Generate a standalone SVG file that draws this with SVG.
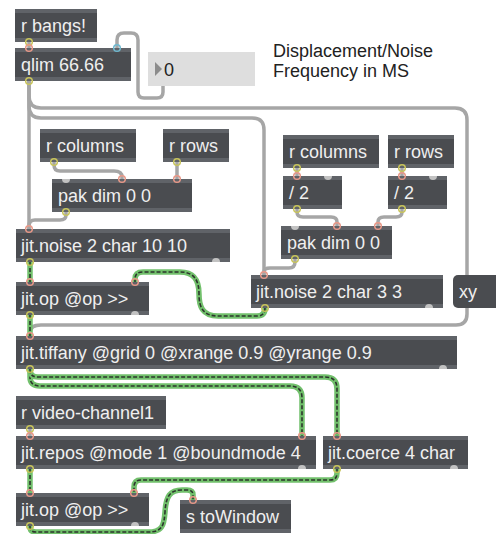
<svg xmlns="http://www.w3.org/2000/svg" width="496" height="534" viewBox="0 0 496 534">
<style>
.body{fill:#4a4c50}
.band{fill:#606368}
.t{font-family:"Liberation Sans",Arial,sans-serif;font-size:18px;fill:#efefef}
.c{font-family:"Liberation Sans",Arial,sans-serif;font-size:18px;fill:#222}
.gc{fill:none;stroke:#a6a6a6;stroke-width:3.5;stroke-linecap:round;stroke-linejoin:round}
.mg{fill:none;stroke:#72c06c;stroke-width:5.5;stroke-linejoin:round}
.md{fill:none;stroke:#2c352c;stroke-width:1.6;stroke-dasharray:4 2}
.bump{fill:#c2c2c2}
.pin{fill:none;stroke:#e89888;stroke-width:1.5}
.pcold{fill:none;stroke:#6fb8cf;stroke-width:1.5}
.pout{fill:none;stroke:#c8c45a;stroke-width:1.5}
</style>
<rect width="496" height="534" fill="#ffffff"/>

<g id="connectors">
  <path class="gc" d="M29 42 L29 48"/>
  <path class="gc" d="M163 86 L163 92 Q163 98 157 98 L144 98 Q138 98 138 92 L138 40 Q138 33 131 33 L124 33 Q117 33 117 40 L117 48"/>
  <path class="gc" d="M29 81 L29 229"/>
  <path class="gc" d="M29 81 L29 96 Q29 108 41 108 L455 108 Q467 108 467 120 L467 275"/>
  <path class="gc" d="M467 308 L467 314 Q467 325 456 325 L41 325 Q30 325 30 333 L30 336"/>
  <path class="gc" d="M29 81 L29 106 Q29 118 41 118 L252 118 Q264 118 264 130 L264 275"/>
  <path class="gc" d="M54 162 L54 165 Q54 171 60 171 L114 171 Q122 171 122 177 L122 179"/>
  <path class="gc" d="M177 162 L177 179"/>
  <path class="gc" d="M66 212 L66 215 Q66 220 60 220 L35 220 Q29 220 29 226 L29 229"/>
  <path class="gc" d="M297 168 L297 176"/>
  <path class="gc" d="M402 168 L402 176"/>
  <path class="gc" d="M297 209 L297 212 Q297 217 303 217 L331 217 Q337 217 337 222 L337 226"/>
  <path class="gc" d="M402 209 L402 212 Q402 217 396 217 L384 217 Q378 217 378 222 L378 226"/>
  <path class="gc" d="M295 259 L295 262 Q295 268 289 268 L270 268 Q264 268 264 272 L264 275"/>
  <path class="gc" d="M30 429 L30 436"/>

  <g id="matrix-cords">
    <path class="mg" d="M30 262 L30 282"/>
    <path class="md" d="M30 262 L30 282"/>
    <path class="mg" d="M265 308 Q265 316 257 316 L218 316 C202 316 199 306 199 294 C199 280 194 272 180 272 L143 272 Q135 272 135 279 L135 282"/>
    <path class="md" d="M265 308 Q265 316 257 316 L218 316 C202 316 199 306 199 294 C199 280 194 272 180 272 L143 272 Q135 272 135 279 L135 282"/>
    <path class="mg" d="M30 315 L30 336"/>
    <path class="md" d="M30 315 L30 336"/>
    <path class="mg" d="M30 369 L30 377 Q30 386 40 386 L290 386 Q302 386 302 398 L302 436"/>
    <path class="md" d="M30 369 L30 377 Q30 386 40 386 L290 386 Q302 386 302 398 L302 436"/>
    <path class="mg" d="M30 369 L30 370 Q30 377 38 377 L325 377 Q337 377 337 389 L337 436"/>
    <path class="md" d="M30 369 L30 370 Q30 377 38 377 L325 377 Q337 377 337 389 L337 436"/>
    <path class="mg" d="M30 469 L30 493"/>
    <path class="md" d="M30 469 L30 493"/>
    <path class="mg" d="M337 469 L337 473 Q337 480 330 480 L141 480 Q134 480 134 487 L134 493"/>
    <path class="md" d="M337 469 L337 473 Q337 480 330 480 L141 480 Q134 480 134 487 L134 493"/>
    <path class="mg" d="M30 526 L30 527 Q30 532 36 532 L148 532 C162 532 164 526 165 512 C166 496 170 490 182 490 L187 490 Q193 490 193 495 L193 500"/>
    <path class="md" d="M30 526 L30 527 Q30 532 36 532 L148 532 C162 532 164 526 165 512 C166 496 170 490 182 490 L187 490 Q193 490 193 495 L193 500"/>
  </g>
</g>

<g id="r-bangs"><rect class="body" x="15" y="9" width="82" height="33"/><rect class="band" x="15" y="9" width="82" height="4"/><rect class="band" x="15" y="38" width="82" height="4"/><text class="t" x="21" y="32">r bangs!</text></g>
<g id="qlim"><rect class="body" x="15" y="48" width="116" height="33"/><rect class="band" x="15" y="48" width="116" height="4"/><rect class="band" x="15" y="77" width="116" height="4"/><text class="t" x="21" y="71">qlim 66.66</text></g>
<g id="number"><rect x="148" y="52" width="107" height="34" fill="#dedede"/><path d="M155 62 L155 76 L162 69 Z" fill="#8c8c8c"/><text class="c" x="164" y="76">0</text></g>
<g id="comment"><text class="c" x="273" y="57">Displacement/Noise</text><text class="c" x="273" y="77">Frequency in MS</text></g>

<g id="r-columns-1"><rect class="body" x="40" y="129" width="96" height="33"/><rect class="band" x="40" y="129" width="96" height="4"/><rect class="band" x="40" y="158" width="96" height="4"/><text class="t" x="46" y="152">r columns</text></g>
<g id="r-rows-1"><rect class="body" x="163" y="129" width="66" height="33"/><rect class="band" x="163" y="129" width="66" height="4"/><rect class="band" x="163" y="158" width="66" height="4"/><text class="t" x="169" y="152">r rows</text></g>
<g id="pak-1"><rect class="body" x="52" y="179" width="140" height="33"/><rect class="band" x="52" y="179" width="140" height="4"/><rect class="band" x="52" y="208" width="140" height="4"/><text class="t" x="58" y="202">pak dim 0 0</text></g>
<g id="noise-10"><rect class="body" x="16" y="229" width="214" height="33"/><rect class="band" x="16" y="229" width="214" height="4"/><rect class="band" x="16" y="258" width="214" height="4"/><text class="t" x="21" y="252">jit.noise 2 char 10 10</text></g>
<g id="op-1"><rect class="body" x="16" y="282" width="133" height="33"/><rect class="band" x="16" y="282" width="133" height="4"/><rect class="band" x="16" y="311" width="133" height="4"/><text class="t" x="21" y="305">jit.op @op &gt;&gt;</text></g>

<g id="r-columns-2"><rect class="body" x="283" y="135" width="96" height="33"/><rect class="band" x="283" y="135" width="96" height="4"/><rect class="band" x="283" y="164" width="96" height="4"/><text class="t" x="289" y="158">r columns</text></g>
<g id="r-rows-2"><rect class="body" x="388" y="135" width="66" height="33"/><rect class="band" x="388" y="135" width="66" height="4"/><rect class="band" x="388" y="164" width="66" height="4"/><text class="t" x="394" y="158">r rows</text></g>
<g id="div-1"><rect class="body" x="283" y="176" width="59" height="33"/><rect class="band" x="283" y="176" width="59" height="4"/><rect class="band" x="283" y="205" width="59" height="4"/><text class="t" x="289" y="199">/ 2</text></g>
<g id="div-2"><rect class="body" x="388" y="176" width="59" height="33"/><rect class="band" x="388" y="176" width="59" height="4"/><rect class="band" x="388" y="205" width="59" height="4"/><text class="t" x="394" y="199">/ 2</text></g>
<g id="pak-2"><rect class="body" x="281" y="226" width="111" height="33"/><rect class="band" x="281" y="226" width="111" height="4"/><rect class="band" x="281" y="255" width="111" height="4"/><text class="t" x="287" y="249">pak dim 0 0</text></g>
<g id="noise-3"><rect class="body" x="251" y="275" width="192" height="33"/><rect class="band" x="251" y="275" width="192" height="4"/><rect class="band" x="251" y="304" width="192" height="4"/><text class="t" x="256" y="298">jit.noise 2 char 3 3</text></g>
<g id="xy"><rect class="body" x="453" y="275" width="52" height="33" rx="5"/><text class="t" x="459" y="298">xy</text></g>

<g id="tiffany"><rect class="body" x="16" y="336" width="441" height="33"/><rect class="band" x="16" y="336" width="441" height="4"/><rect class="band" x="16" y="365" width="441" height="4"/><text class="t" x="21" y="359">jit.tiffany @grid 0 @xrange 0.9 @yrange 0.9</text></g>
<g id="r-video"><rect class="body" x="16" y="396" width="150" height="33"/><rect class="band" x="16" y="396" width="150" height="4"/><rect class="band" x="16" y="425" width="150" height="4"/><text class="t" x="21" y="419">r video-channel1</text></g>
<g id="repos"><rect class="body" x="16" y="436" width="300" height="33"/><rect class="band" x="16" y="436" width="300" height="4"/><rect class="band" x="16" y="465" width="300" height="4"/><text class="t" x="21" y="459">jit.repos @mode 1 @boundmode 4</text></g>
<g id="coerce"><rect class="body" x="323" y="436" width="145" height="33"/><rect class="band" x="323" y="436" width="145" height="4"/><rect class="band" x="323" y="465" width="145" height="4"/><text class="t" x="328" y="459">jit.coerce 4 char</text></g>
<g id="op-2"><rect class="body" x="16" y="493" width="133" height="33"/><rect class="band" x="16" y="493" width="133" height="4"/><rect class="band" x="16" y="522" width="133" height="4"/><text class="t" x="21" y="516">jit.op @op &gt;&gt;</text></g>
<g id="to-window"><rect class="body" x="180" y="500" width="111" height="33"/><rect class="band" x="180" y="500" width="111" height="4"/><rect class="band" x="180" y="529" width="111" height="4"/><text class="t" x="186" y="523">s toWindow</text></g>

<g id="ports">
  <path class="bump" d="M62 179 A4 4 0 0 0 70 179 Z"/>
  <path class="bump" d="M324 176 A4 4 0 0 0 332 176 Z"/>
  <path class="bump" d="M429 176 A4 4 0 0 0 437 176 Z"/>
  <path class="bump" d="M291 226 A4 4 0 0 0 299 226 Z"/>
  <path class="bump" d="M212 262 A4 4 0 0 1 220 262 Z"/>
  <path class="bump" d="M425 308 A4 4 0 0 1 433 308 Z"/>
  <path class="bump" d="M131 315 A4 4 0 0 1 139 315 Z"/>
  <path class="bump" d="M439 369 A4 4 0 0 1 447 369 Z"/>
  <path class="bump" d="M298 469 A4 4 0 0 1 306 469 Z"/>
  <path class="bump" d="M450 469 A4 4 0 0 1 458 469 Z"/>
  <path class="bump" d="M131 526 A4 4 0 0 1 139 526 Z"/>

  <circle class="pout" cx="29" cy="42" r="3.3"/>
  <circle class="pin" cx="29" cy="48" r="3.3"/>
  <circle class="pcold" cx="117" cy="48" r="3.3"/>
  <circle class="pout" cx="29" cy="81" r="3.3"/>
  <circle class="pout" cx="54" cy="162" r="3.3"/>
  <circle class="pout" cx="177" cy="162" r="3.3"/>
  <circle class="pin" cx="122" cy="179" r="3.3"/>
  <circle class="pin" cx="177" cy="179" r="3.3"/>
  <circle class="pout" cx="66" cy="212" r="3.3"/>
  <circle class="pin" cx="29" cy="229" r="3.3"/>
  <circle class="pout" cx="30" cy="262" r="3.3"/>
  <circle class="pin" cx="30" cy="282" r="3.3"/>
  <circle class="pin" cx="135" cy="282" r="3.3"/>
  <circle class="pout" cx="30" cy="315" r="3.3"/>
  <circle class="pout" cx="297" cy="168" r="3.3"/>
  <circle class="pout" cx="402" cy="168" r="3.3"/>
  <circle class="pin" cx="297" cy="176" r="3.3"/>
  <circle class="pin" cx="402" cy="176" r="3.3"/>
  <circle class="pout" cx="297" cy="209" r="3.3"/>
  <circle class="pout" cx="402" cy="209" r="3.3"/>
  <circle class="pin" cx="337" cy="226" r="3.3"/>
  <circle class="pin" cx="378" cy="226" r="3.3"/>
  <circle class="pout" cx="295" cy="259" r="3.3"/>
  <circle class="pin" cx="264" cy="275" r="3.3"/>
  <circle class="pout" cx="265" cy="308" r="3.3"/>
  <circle class="pin" cx="30" cy="336" r="3.3"/>
  <circle class="pout" cx="30" cy="369" r="3.3"/>
  <circle class="pout" cx="30" cy="429" r="3.3"/>
  <circle class="pin" cx="30" cy="436" r="3.3"/>
  <circle class="pin" cx="302" cy="436" r="3.3"/>
  <circle class="pin" cx="337" cy="436" r="3.3"/>
  <circle class="pout" cx="30" cy="469" r="3.3"/>
  <circle class="pout" cx="337" cy="469" r="3.3"/>
  <circle class="pin" cx="30" cy="493" r="3.3"/>
  <circle class="pin" cx="134" cy="493" r="3.3"/>
  <circle class="pout" cx="30" cy="526" r="3.3"/>
  <circle class="pin" cx="193" cy="500" r="3.3"/>
</g>
</svg>
